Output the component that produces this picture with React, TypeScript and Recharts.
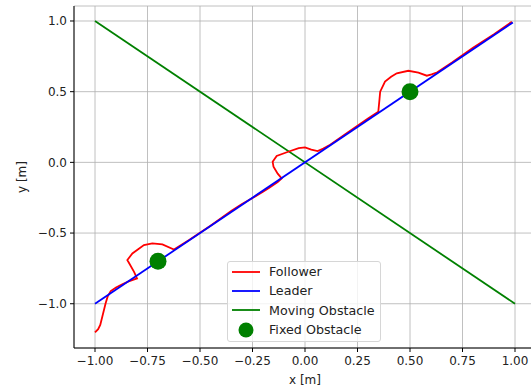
import React from 'react'
import {
  ComposedChart,
  Line,
  Scatter,
  XAxis,
  YAxis,
  CartesianGrid,
  Legend,
  Label,
} from 'recharts'

const FONT = '"DejaVu Sans", sans-serif'

const X_TICKS = [-1, -0.75, -0.5, -0.25, 0, 0.25, 0.5, 0.75, 1]
const Y_TICKS = [-1, -0.5, 0, 0.5, 1]

const followerX = [
  -1.0, -0.985, -0.975, -0.965, -0.95, -0.94, -0.925, -0.9, -0.87, -0.84, -0.8, -0.814, -0.846,
  -0.822, -0.767, -0.727, -0.679, -0.624, -0.55, -0.45, -0.35, -0.3, -0.25, -0.2, -0.17, -0.13,
  -0.111, -0.13, -0.15, -0.154, -0.135, -0.08, -0.03, 0.0, 0.03, 0.06, 0.087, 0.12, 0.2, 0.3,
  0.349, 0.355, 0.358, 0.381, 0.41, 0.437, 0.492, 0.54, 0.58, 0.603, 0.63, 0.7, 0.8, 0.9, 0.985,
]
const followerY = [
  -1.203, -1.18, -1.15, -1.09, -1.0, -0.95, -0.91, -0.885, -0.862, -0.842, -0.821, -0.774, -0.691,
  -0.644, -0.585, -0.573, -0.58, -0.616, -0.548, -0.448, -0.342, -0.295, -0.252, -0.207, -0.18,
  -0.14, -0.113, -0.08, -0.031, 0.004, 0.045, 0.075, 0.1, 0.106, 0.09, 0.08, 0.097, 0.125, 0.207,
  0.31, 0.358, 0.45, 0.5, 0.571, 0.605, 0.63, 0.648, 0.635, 0.613, 0.622, 0.637, 0.706, 0.81,
  0.907, 0.995,
]

const leaderX = [-1, 0.99]
const leaderY = [-1, 0.99]

const movingX = [-1, 1]
const movingY = [1, -1]

const fixedX = [-0.7, 0.5]
const fixedY = [-0.7, 0.5]

const zip = (xs: number[], ys: number[]) => xs.map((x, i) => ({ x, y: ys[i] }))

const follower = zip(followerX, followerY)
const leader = zip(leaderX, leaderY)
const moving = zip(movingX, movingY)
const fixed = zip(fixedX, fixedY)

const minus = (s: string) => s.replace('-', '\u2212')

const LEGEND_ITEMS = [
  { name: 'Follower', color: '#ff0000', kind: 'line' },
  { name: 'Leader', color: '#0000ff', kind: 'line' },
  { name: 'Moving Obstacle', color: '#008000', kind: 'line' },
  { name: 'Fixed Obstacle', color: '#008000', kind: 'dot' },
]

function LegendBox() {
  return (
    <div
      style={{
        width: 154,
        height: 81,
        boxSizing: 'border-box',
        background: 'rgba(255,255,255,0.8)',
        border: '1px solid #d6d6d6',
        borderRadius: 3,
        fontFamily: FONT,
        fontSize: 12.7,
        color: '#222',
        paddingTop: 0,
      }}
    >
      {LEGEND_ITEMS.map(item => (
        <div key={item.name} style={{ display: 'flex', alignItems: 'center', height: 19.3 }}>
          <svg width={41} height={18} style={{ flexShrink: 0 }}>
            {item.kind === 'line' ? (
              <line x1={4} x2={32} y1={9} y2={9} stroke={item.color} strokeWidth={1.8} />
            ) : (
              <circle cx={18} cy={9} r={7.5} fill={item.color} />
            )}
          </svg>
          <span>{item.name}</span>
        </div>
      ))}
    </div>
  )
}

export default function App() {
  return (
    <div style={{ position: 'absolute', left: 0, top: 0, width: 531, height: 389, overflow: 'hidden', background: '#fff' }}>
      <ComposedChart width={545} height={389} margin={{ top: 6, right: 9, bottom: 0, left: 0 }}>
        <CartesianGrid stroke="#b0b0b0" strokeWidth={0.8} />
        <XAxis
          dataKey="x"
          type="number"
          domain={[-1.1, 1.1]}
          ticks={X_TICKS}
          allowDataOverflow
          height={41}
          tickSize={4}
          tickMargin={4}
          axisLine={{ stroke: '#000' }}
          tickLine={{ stroke: '#000' }}
          tick={{ fill: '#222', fontSize: 12, fontFamily: FONT }}
          tickFormatter={(v: number) => minus(v.toFixed(2))}
        >
          <Label value="x [m]" position="insideBottom" offset={5} fill="#222" fontSize={12} fontFamily={FONT} />
        </XAxis>
        <XAxis
          xAxisId="top"
          orientation="top"
          type="number"
          domain={[-1.1, 1.1]}
          height={0}
          tick={false}
          tickLine={false}
          axisLine={{ stroke: '#000' }}
        />
        <YAxis
          dataKey="y"
          type="number"
          domain={[-1.313, 1.106]}
          ticks={Y_TICKS}
          allowDataOverflow
          width={74}
          tickSize={4}
          tickMargin={3}
          axisLine={{ stroke: '#000' }}
          tickLine={{ stroke: '#000' }}
          tick={{ fill: '#222', fontSize: 12, fontFamily: FONT }}
          tickFormatter={(v: number) => minus(v.toFixed(1))}
        >
          <Label
            value="y [m]"
            angle={-90}
            position="insideLeft"
            offset={22}
            textAnchor="middle"
            fill="#222"
            fontSize={12}
            fontFamily={FONT}
          />
        </YAxis>
        <Line data={moving} dataKey="y" type="linear" stroke="#008000" strokeWidth={1.8} dot={false} isAnimationActive={false} />
        <Line data={follower} dataKey="y" type="linear" stroke="#ff0000" strokeWidth={1.8} dot={false} isAnimationActive={false} />
        <Line data={leader} dataKey="y" type="linear" stroke="#0000ff" strokeWidth={1.8} dot={false} isAnimationActive={false} />
        <Scatter
          data={fixed}
          dataKey="y"
          fill="#008000"
          isAnimationActive={false}
          shape={(p: any) => <circle cx={p.cx} cy={p.cy} r={8.5} fill="#008000" />}
        />
        <Legend
          layout="vertical"
          verticalAlign="middle"
          align="center"
          wrapperStyle={{ left: 227, top: 261, width: 154 }}
          content={() => <LegendBox />}
        />
      </ComposedChart>
    </div>
  )
}
